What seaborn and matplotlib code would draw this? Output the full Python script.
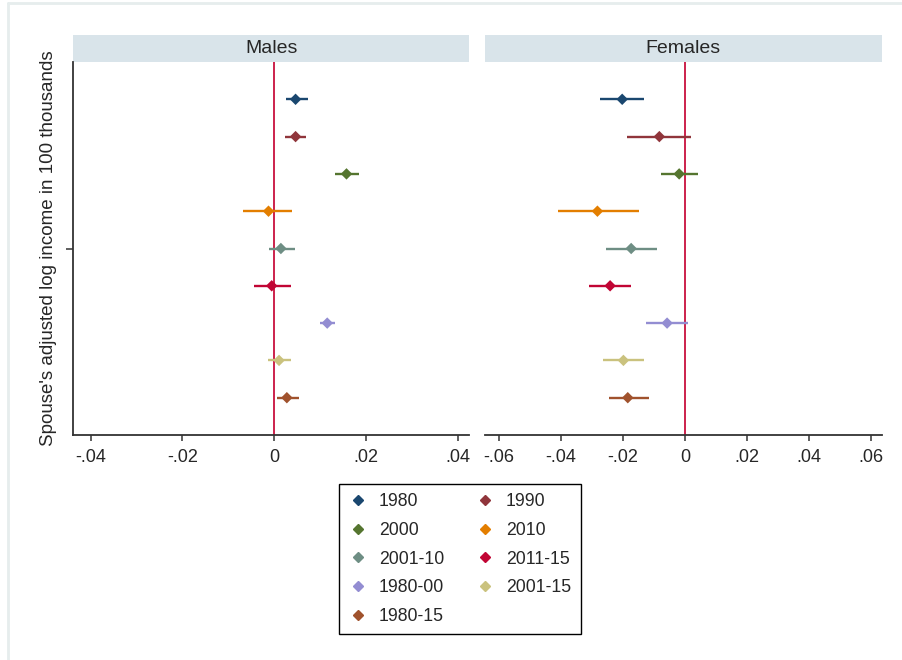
import numpy as np
import pandas as pd
import matplotlib
matplotlib.use("Agg")
import matplotlib.pyplot as plt
import seaborn as sns
from matplotlib.lines import Line2D
from matplotlib.patches import Rectangle
from matplotlib.ticker import FuncFormatter

# Cohorts / models, top to bottom
models = ["1980", "1990", "2000", "2010", "2001-10", "2011-15", "1980-00", "2001-15", "1980-15"]
colors = ["#1a476f", "#90353b", "#55752f", "#e37e00", "#6e8e84",
          "#c10534", "#938dd2", "#cac27e", "#a0522d"]

# Males: point estimate and 95% CI
male_b = [0.0047, 0.0047, 0.0158, -0.0012, 0.0015, -0.0005, 0.0116, 0.0011, 0.0028]
male_lo = [0.0026, 0.0025, 0.0133, -0.0067, -0.0011, -0.0044, 0.0101, -0.0014, 0.0006]
male_hi = [0.0074, 0.0070, 0.0185, 0.0040, 0.0045, 0.0037, 0.0133, 0.0037, 0.0055]

# Females
female_b = [-0.0203, -0.0083, -0.0019, -0.0283, -0.0174, -0.0242, -0.0058, -0.0199, -0.0185]
female_lo = [-0.0275, -0.0188, -0.0077, -0.0411, -0.0256, -0.0310, -0.0126, -0.0266, -0.0247]
female_hi = [-0.0131, 0.0019, 0.0043, -0.0150, -0.0092, -0.0174, 0.0010, -0.0131, -0.0116]

coef_label = "Spouse's adjusted log income in 100 thousands"
panels = ["Males", "Females"]
male_ticks = [-0.04, -0.02, 0, 0.02, 0.04]
female_ticks = [-0.06, -0.04, -0.02, 0, 0.02, 0.04, 0.06]

sns.set_theme(style="white")
plt.rcParams['font.family'] = ['Liberation Sans', 'DejaVu Sans']

rows = []
for sex, b, lo, hi in [("Males", male_b, male_lo, male_hi),
                       ("Females", female_b, female_lo, female_hi)]:
    for i, m in enumerate(models):
        rows.append({"sex": sex, "model": m, "b": b[i], "lo": lo[i], "hi": hi[i],
                     "pos": 1 + (i - 4) * 0.1})
df = pd.DataFrame(rows)
palette = dict(zip(models, colors))


def fmt(v, _):
    if abs(v) < 1e-9:
        return "0"
    s = f"{v:.2f}"
    return s.replace("0.", ".")


fig = plt.figure(figsize=(9.02, 6.6), dpi=100)
ax_m = fig.add_axes([73.3 / 902, 1 - 435 / 660, 396 / 902, 373 / 660])
ax_f = fig.add_axes([485 / 902, 1 - 435 / 660, 396.7 / 902, 373 / 660])

limits = {"Males": (-0.04375, 0.04257), "Females": (-0.0646, 0.0635)}
ticks = {"Males": male_ticks, "Females": female_ticks}
ref_color = "#c8103e"

for ax, sex in zip([ax_m, ax_f], panels):
    sub = df[df.sex == sex]
    ax.axvline(0, color=ref_color, lw=1.3, zorder=1)
    ax.hlines(sub["pos"], sub["lo"], sub["hi"], colors=[palette[m] for m in sub["model"]],
              lw=1.7, zorder=2)
    sns.scatterplot(data=sub, x="b", y="pos", hue="model", palette=palette, marker="D",
                    s=34, linewidth=0, legend=False, ax=ax, zorder=3)
    ax.set_xlim(*limits[sex])
    ax.set_ylim(1.5, 0.5)
    ax.set_xticks(ticks[sex])
    ax.xaxis.set_major_formatter(FuncFormatter(fmt))
    ax.set_xlabel("")
    ax.set_ylabel("")
    for sp in ["top", "right"]:
        ax.spines[sp].set_visible(False)
    ax.spines["bottom"].set_color("#333333")
    ax.spines["bottom"].set_linewidth(1.3)
    ax.tick_params(axis="x", bottom=True, length=4, width=1.1, color="#333333",
                   labelsize=13, pad=6)
    # strip header
    ax.add_patch(Rectangle((0, 1.0), 1, 0.072, transform=ax.transAxes, facecolor="#d9e4ea",
                           edgecolor="none", clip_on=False))
    ax.text(0.5, 1.036, sex, transform=ax.transAxes, ha="center", va="center", fontsize=14)

ax_m.spines["left"].set_color("#333333")
ax_m.spines["left"].set_linewidth(1.3)
ax_m.set_yticks([1.0])
ax_m.set_yticklabels([coef_label], rotation=90, va="center", fontsize=13.5)
ax_m.tick_params(axis="y", left=True, length=5, width=1.1, color="#333333", pad=7)
ax_f.spines["left"].set_visible(False)
ax_f.set_yticks([])

# legend, row-wise order in 2 columns
order = [0, 2, 4, 6, 8, 1, 3, 5, 7]
handles = [Line2D([], [], marker="D", ls="", color=colors[i], ms=5.2) for i in order]
leg = fig.legend(handles, [models[i] for i in order], ncol=2, loc="center",
                 bbox_to_anchor=(460 / 902, 1 - 559 / 660), fontsize=12.7, frameon=True,
                 fancybox=False, edgecolor="black", framealpha=1, handlelength=1.0,
                 handletextpad=0.7, columnspacing=1.8, labelspacing=0.66, borderpad=0.55)
leg.get_frame().set_linewidth(1.0)

# faint border of the graph region
fig.add_artist(Line2D([8 / 902, 8 / 902], [0, 1 - 3 / 660], color="#e6eded", lw=2))
fig.add_artist(Line2D([8 / 902, 1], [1 - 3 / 660, 1 - 3 / 660], color="#e6eded", lw=2))

fig.savefig("out.png", dpi=100)
